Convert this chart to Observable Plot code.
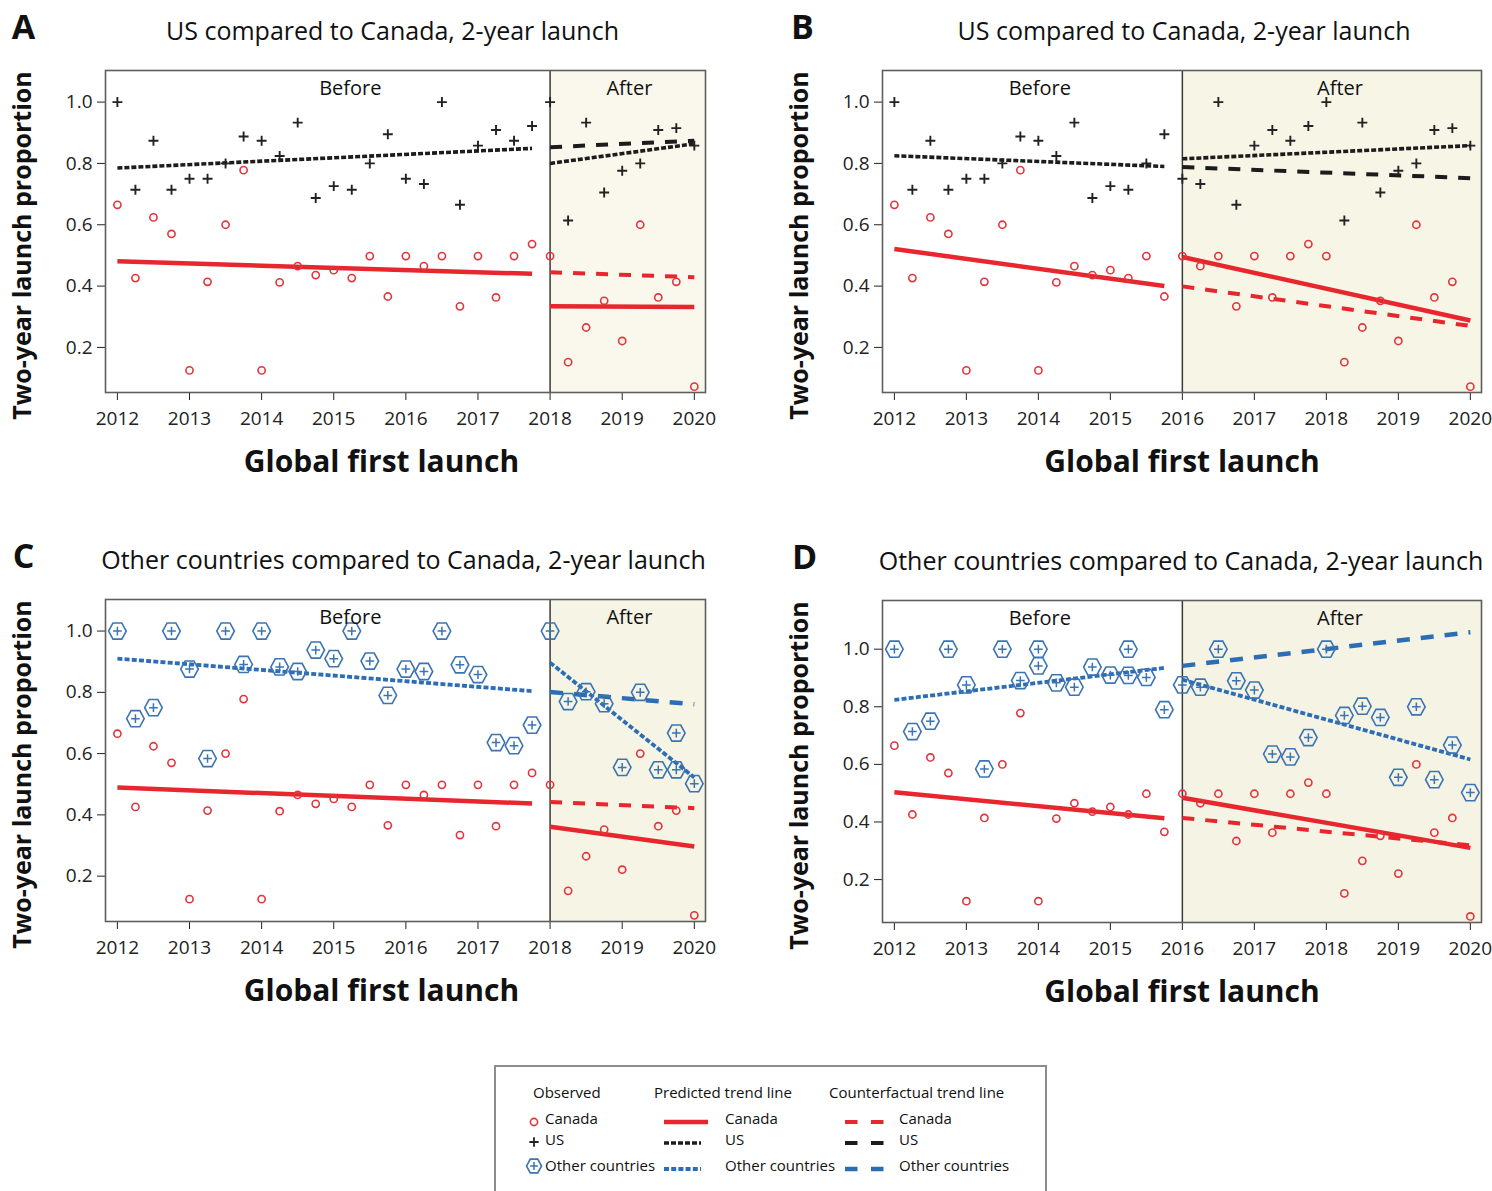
<!DOCTYPE html>
<html>
<head>
<meta charset="utf-8">
<script src="https://cdn.jsdelivr.net/npm/d3@7"></script>
<script src="https://cdn.jsdelivr.net/npm/@observablehq/plot@0.6"></script>
<style>
  html, body { margin: 0; padding: 0; background: #fff; overflow: hidden; }
  #root { position: relative; width: 1492px; height: 1191px; overflow: hidden; font-family: "Open Sans", Lato, sans-serif; }
  .panel { position: absolute; }
  .panel svg { overflow: visible; }
  #legend { position: absolute; left: 494px; top: 1065px; width: 553px; height: 150px; border: 2px solid #8c8c8c; box-sizing: border-box; background: #fff; }
</style>
</head>
<body>
<div id="root"></div>
<script>
// ---------------- data ----------------
const periods = [2012, 2012.25, 2012.5, 2012.75, 2013, 2013.25, 2013.5, 2013.75,
  2014, 2014.25, 2014.5, 2014.75, 2015, 2015.25, 2015.5, 2015.75,
  2016, 2016.25, 2016.5, 2016.75, 2017, 2017.25, 2017.5, 2017.75,
  2018, 2018.25, 2018.5, 2018.75, 2019, 2019.25, 2019.5, 2019.75, 2020];

const canada = [0.665, 0.426, 0.624, 0.570, 0.125, 0.414, 0.600, 0.778,
  0.125, 0.412, 0.465, 0.436, 0.452, 0.426, 0.498, 0.366,
  0.498, 0.465, 0.498, 0.334, 0.498, 0.363, 0.498, 0.537,
  0.498, 0.152, 0.265, 0.352, 0.221, 0.600, 0.363, 0.414, 0.072];

const us = [1.000, 0.714, 0.874, 0.714, 0.750, 0.750, 0.800, 0.888,
  0.874, 0.824, 0.933, 0.687, 0.726, 0.714, 0.800, 0.895,
  0.750, 0.733, 1.000, 0.665, 0.858, 0.909, 0.874, 0.922,
  1.000, 0.614, 0.933, 0.705, 0.776, 0.800, 0.909, 0.915, 0.858];

const others = [1.000, 0.714, 0.750, 1.000, 0.876, 0.584, 1.000, 0.891,
  1.000, 0.883, 0.868, 0.938, 0.910, 1.000, 0.902, 0.790,
  0.876, 0.868, 1.000, 0.890, 0.858, 0.636, 0.626, 0.693,
  1.000, 0.770, 0.802, 0.763, 0.555, 0.800, 0.547, 0.667, 0.502];

// additional overlapping observations visible only in some panels
const othersExtraC = [{t: 2019.75, v: 0.547}];
const othersExtraD = [{t: 2014, v: 0.942}, {t: 2015.25, v: 0.909}];

const yearTicks = [2012, 2013, 2014, 2015, 2016, 2017, 2018, 2019, 2020];
const propTicks = [0.2, 0.4, 0.6, 0.8, 1.0];

// trend lines: series, kind, start period/value, end period/value
const trendA = [
  {series: "Canada", kind: "predicted", t1: 2012, v1: 0.481, t2: 2017.75, v2: 0.440},
  {series: "Canada", kind: "predicted", t1: 2018, v1: 0.334, t2: 2020, v2: 0.332},
  {series: "Canada", kind: "counterfactual", t1: 2018, v1: 0.445, t2: 2020, v2: 0.429},
  {series: "US", kind: "predicted", t1: 2012, v1: 0.785, t2: 2017.75, v2: 0.849},
  {series: "US", kind: "predicted", t1: 2018, v1: 0.800, t2: 2020, v2: 0.864},
  {series: "US", kind: "counterfactual", t1: 2018, v1: 0.853, t2: 2020, v2: 0.874}
];
const trendB = [
  {series: "Canada", kind: "predicted", t1: 2012, v1: 0.521, t2: 2015.75, v2: 0.400},
  {series: "Canada", kind: "predicted", t1: 2016, v1: 0.495, t2: 2020, v2: 0.288},
  {series: "Canada", kind: "counterfactual", t1: 2016, v1: 0.399, t2: 2020, v2: 0.270},
  {series: "US", kind: "predicted", t1: 2012, v1: 0.825, t2: 2015.75, v2: 0.790},
  {series: "US", kind: "predicted", t1: 2016, v1: 0.815, t2: 2020, v2: 0.858},
  {series: "US", kind: "counterfactual", t1: 2016, v1: 0.788, t2: 2020, v2: 0.752}
];
const trendC = [
  {series: "Canada", kind: "predicted", t1: 2012, v1: 0.489, t2: 2017.75, v2: 0.437},
  {series: "Canada", kind: "predicted", t1: 2018, v1: 0.361, t2: 2020, v2: 0.297},
  {series: "Canada", kind: "counterfactual", t1: 2018, v1: 0.442, t2: 2020, v2: 0.422},
  {series: "Other", kind: "predicted", t1: 2012, v1: 0.910, t2: 2017.75, v2: 0.804},
  {series: "Other", kind: "predicted", t1: 2018, v1: 0.897, t2: 2020, v2: 0.522},
  {series: "Other", kind: "counterfactual", t1: 2018, v1: 0.801, t2: 2020, v2: 0.761}
];
const trendD = [
  {series: "Canada", kind: "predicted", t1: 2012, v1: 0.503, t2: 2015.75, v2: 0.413},
  {series: "Canada", kind: "predicted", t1: 2016, v1: 0.484, t2: 2020, v2: 0.310},
  {series: "Canada", kind: "counterfactual", t1: 2016, v1: 0.414, t2: 2020, v2: 0.319},
  {series: "Other", kind: "predicted", t1: 2012, v1: 0.824, t2: 2015.75, v2: 0.935},
  {series: "Other", kind: "predicted", t1: 2016, v1: 0.894, t2: 2020, v2: 0.617},
  {series: "Other", kind: "counterfactual", t1: 2016, v1: 0.942, t2: 2020, v2: 1.059}
];

// ---------------- styling ----------------
const RED = "#e8262e", BLACK = "#1c1c1c", BLUE = "#2d6db5";
const FONT = "'Open Sans', Lato, sans-serif";

const lineStyles = {
  "Canada|predicted": {stroke: RED, strokeWidth: 4.5},
  "Canada|counterfactual": {stroke: RED, strokeWidth: 4, strokeDasharray: "12,11"},
  "US|predicted": {stroke: BLACK, strokeWidth: 3.6, strokeDasharray: "5,2"},
  "US|counterfactual": {stroke: BLACK, strokeWidth: 4, strokeDasharray: "12,11"},
  "Other|predicted": {stroke: BLUE, strokeWidth: 3.8, strokeDasharray: "5,2.2"},
  "Other|counterfactual": {stroke: BLUE, strokeWidth: 4.5, strokeDasharray: "13,11"}
};

// flat-top hexagon symbol
const hexSymbol = {
  draw(context, size) {
    const r = Math.sqrt(size / Math.PI);
    for (let k = 0; k < 6; k++) {
      const a = k * Math.PI / 3;
      const px = r * Math.cos(a), py = r * Math.sin(a) * 1.06;
      if (k === 0) context.moveTo(px, py); else context.lineTo(px, py);
    }
    context.closePath();
  }
};

const obs = (vals) => periods.map((t, i) => ({t, v: vals[i]}));

const panels = [
  {letter: "A", title: "US compared to Canada, 2-year launch", comp: "US", split: 2018, trend: trendA,
   y: [0.053, 1.103], left: 0, top: 0, width: 720, mr: 15, titleDx: -13, xtDx: -24, letterDx: -82,
   before: 2015.23, after: 2019.1, extra: [], shade: "#faf8ec"},
  {letter: "B", title: "US compared to Canada, 2-year launch", comp: "US", split: 2016, trend: trendB,
   y: [0.053, 1.103], left: 777, top: 0, width: 715, mr: 11, titleDx: 2, xtDx: 0, letterDx: -80,
   before: 2014.02, after: 2018.19, extra: [], shade: "#f7f5e6"},
  {letter: "C", title: "Other countries compared to Canada, 2-year launch", comp: "Other", split: 2018, trend: trendC,
   y: [0.052, 1.103], left: 0, top: 529, width: 720, mr: 15, titleDx: -2, xtDx: -24, letterDx: -82,
   before: 2015.23, after: 2019.1, extra: othersExtraC, shade: "#f6f4e4"},
  {letter: "D", title: "Other countries compared to Canada, 2-year launch", comp: "Other", split: 2016, trend: trendD,
   y: [0.051, 1.169], left: 777, top: 530, width: 715, mr: 11, titleDx: -1, xtDx: 0, letterDx: -78,
   before: 2014.02, after: 2018.19, extra: othersExtraD, shade: "#f5f3e4"}
];

const X_DOMAIN = [2011.835, 2020.155];
const root = document.getElementById("root");

for (const p of panels) {
  const lineMarks = Object.entries(lineStyles).map(([key, st]) => {
    const [series, kind] = key.split("|");
    const rows = p.trend.filter(d => d.series === series && d.kind === kind);
    return Plot.link(rows, {x1: "t1", y1: "v1", x2: "t2", y2: "v2", strokeLinecap: "butt", ...st});
  });

  const pointMarks = [
    Plot.dot(obs(canada), {x: "t", y: "v", r: 3.6, stroke: "#e3343d", strokeWidth: 1.6, fill: "none"})
  ];
  if (p.comp === "US") {
    pointMarks.push(Plot.dot(obs(us), {x: "t", y: "v", symbol: "plus", r: 3.3, stroke: "#222", strokeWidth: 1.9}));
  } else {
    const od = obs(others).concat(p.extra);
    pointMarks.push(Plot.dot(od, {x: "t", y: "v", symbol: hexSymbol, r: 8.8, stroke: "#3b74b3", strokeWidth: 1.6, fill: "none"}));
    pointMarks.push(Plot.dot(od, {x: "t", y: "v", symbol: "plus", r: 2.9, stroke: "#3b74b3", strokeWidth: 1.5}));
  }

  const chart = Plot.plot({
    width: p.width,
    height: 440,
    marginLeft: 105,
    marginRight: p.mr,
    marginTop: 70,
    marginBottom: 48,
    style: {fontFamily: FONT, fontSize: "19px", color: "#222", background: "transparent", overflow: "visible"},
    x: {domain: X_DOMAIN, ticks: yearTicks, tickFormat: "d", tickSize: 8, tickPadding: 11, label: null},
    y: {domain: p.y, ticks: propTicks, tickFormat: ".1f", tickSize: 8, tickPadding: 5, label: null},
    marks: [
      Plot.rect([{a: p.split, b: X_DOMAIN[1]}], {x1: "a", x2: "b", fill: p.shade}),
      Plot.ruleX([p.split], {stroke: "#3a3a3a", strokeWidth: 1.5}),
      ...lineMarks,
      ...pointMarks,
      Plot.frame({stroke: "#5e5e5e", strokeWidth: 1.6}),
      Plot.text([{x: p.before, s: "Before"}, {x: p.after, s: "After"}],
        {x: "x", text: "s", frameAnchor: "top", lineAnchor: "top", textAnchor: "middle", dy: 10, fontSize: 20, fill: "#111"}),
      Plot.text([p.title], {frameAnchor: "top", lineAnchor: "bottom", textAnchor: "middle", dx: p.titleDx, dy: -31, fontSize: 25, fill: "#111"}),
      Plot.text([p.letter], {frameAnchor: "top-left", lineAnchor: "bottom", textAnchor: "middle", dx: p.letterDx, dy: -32, fontSize: 34, fontWeight: "bold", fill: "#111"}),
      Plot.text(["Global first launch"], {frameAnchor: "bottom", lineAnchor: "bottom", textAnchor: "middle", dx: p.xtDx, dy: 79, fontSize: 30, fontWeight: "bold", fill: "#111"}),
      Plot.text(["Two-year launch proportion"], {frameAnchor: "left", lineAnchor: "middle", textAnchor: "middle", rotate: -90, dx: -83, dy: 14, fontSize: 25, fontWeight: "bold", fill: "#111"})
    ]
  });
  const div = document.createElement("div");
  div.className = "panel";
  div.style.left = p.left + "px";
  div.style.top = p.top + "px";
  div.appendChild(chart);
  root.appendChild(div);
}

// ---------------- legend ----------------
const legendHeaders = ["Observed", "Predicted trend line", "Counterfactual trend line"];
const legendSeries = ["Canada", "US", "Other countries"];

const lg = document.createElement("div");
lg.id = "legend";
root.appendChild(lg);
const svg = d3.select(lg).append("svg").attr("width", 553).attr("height", 150)
  .style("position", "absolute").style("left", "-2px").style("top", "-2px")
  .style("font-family", FONT).style("font-size", "15px").style("fill", "#111");

const hx = [39, 160, 335];
legendHeaders.forEach((h, i) => svg.append("text").attr("x", hx[i]).attr("y", 33).text(h));
const rowsY = [54, 75, 101];
legendSeries.forEach((s, i) => {
  svg.append("text").attr("x", 51).attr("y", rowsY[i] + 5).text(s);
  svg.append("text").attr("x", 231).attr("y", rowsY[i] + 5).text(s);
  svg.append("text").attr("x", 405).attr("y", rowsY[i] + 5).text(s);
});
// observed symbols
svg.append("circle").attr("cx", 40).attr("cy", rowsY[0] + 3).attr("r", 3.6).attr("fill", "none").attr("stroke", "#e3343d").attr("stroke-width", 1.6);
svg.append("path").attr("transform", `translate(40,${rowsY[1] + 2})`).attr("d", d3.symbol(d3.symbolPlus, 30)()).attr("fill", "none").attr("stroke", "#222").attr("stroke-width", 1.8);
svg.append("path").attr("transform", `translate(40,${rowsY[2]})`).attr("d", d3.symbol(hexSymbol, Math.PI * 7.5 * 7.5)()).attr("fill", "none").attr("stroke", "#3b74b3").attr("stroke-width", 1.6);
svg.append("path").attr("transform", `translate(40,${rowsY[2]})`).attr("d", d3.symbol(d3.symbolPlus, 22)()).attr("fill", "none").attr("stroke", "#3b74b3").attr("stroke-width", 1.5);
// line swatches
const predKeys = ["Canada|predicted", "US|predicted", "Other|predicted"];
const cfKeys = ["Canada|counterfactual", "US|counterfactual", "Other|counterfactual"];
predKeys.forEach((k, i) => {
  const st = lineStyles[k];
  svg.append("line").attr("x1", 170).attr("x2", i === 0 ? 214 : 207).attr("y1", rowsY[i] + 3).attr("y2", rowsY[i] + 3)
    .attr("stroke", st.stroke).attr("stroke-width", st.strokeWidth).attr("stroke-dasharray", st.strokeDasharray || null);
});
cfKeys.forEach((k, i) => {
  const st = lineStyles[k];
  svg.append("line").attr("x1", 351).attr("x2", 390).attr("y1", rowsY[i] + 3).attr("y2", rowsY[i] + 3)
    .attr("stroke", st.stroke).attr("stroke-width", st.strokeWidth).attr("stroke-dasharray", "12.5,13.5");
});
</script>
</body>
</html>
